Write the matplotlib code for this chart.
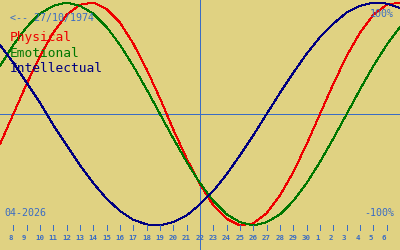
import matplotlib
matplotlib.use('Agg')
import matplotlib.pyplot as plt
import matplotlib.transforms as mtransforms

# days shown: 7 April .. 7 May 2026 (index 0..30), today = 22 April
day_labels = ['7', '8', '9', '10', '11', '12', '13', '14', '15', '16', '17', '18', '19', '20',
              '21', '22', '23', '24', '25', '26', '27', '28', '29', '30',
              '1', '2', '3', '4', '5', '6', '7']
today_idx = 15
physical = [-0.27, 0.00, 0.27, 0.52, 0.73, 0.89, 0.98, 1.00, 0.94, 0.82, 0.63, 0.40, 0.14,
            -0.14, -0.40, -0.63, -0.82, -0.94, -1.00, -0.98, -0.89, -0.73, -0.52, -0.27,
            0.00, 0.27, 0.52, 0.73, 0.89, 0.98, 1.00]
emotional = [0.43, 0.62, 0.78, 0.90, 0.97, 1.00, 0.97, 0.90, 0.78, 0.62, 0.43, 0.22, 0.00,
             -0.22, -0.43, -0.62, -0.78, -0.90, -0.97, -1.00, -0.97, -0.90, -0.78, -0.62,
             -0.43, -0.22, 0.00, 0.22, 0.43, 0.62, 0.78]
intellectual = [0.62, 0.46, 0.28, 0.10, -0.10, -0.28, -0.46, -0.62, -0.76, -0.87, -0.95,
                -0.99, -1.00, -0.97, -0.91, -0.81, -0.69, -0.54, -0.37, -0.19, 0.00, 0.19,
                0.37, 0.54, 0.69, 0.81, 0.91, 0.97, 1.00, 0.99, 0.95]
series_names = ['Physical', 'Emotional', 'Intellectual']
series_colors = ['#ee0000', '#007700', '#000080']
birth = '27/10/1974'
month = '04-2026'

plt.rcParams['lines.antialiased'] = False
plt.rcParams['font.family'] = ['DejaVu Sans Mono']

bg = '#e0d282'
blue = '#3a6cc4'
lw = 0.7

fig = plt.figure(figsize=(4, 2.5), dpi=100, facecolor=bg)
ax = fig.add_axes([0, 0, 1, 1])
ax.set_facecolor(bg)
ax.axis('off')
x = list(range(len(day_labels)))
ax.set_xlim(0, len(day_labels) - 1)
ax.set_ylim(-1.2197, 1.0224)

ax.axhline(0, color=blue, lw=lw)
ax.axvline(today_idx, color=blue, lw=lw)

for vals, c in zip([physical, emotional, intellectual], series_colors):
    ax.plot(x, vals, color=c, lw=lw)

# day ticks along the bottom
tr = mtransforms.blended_transform_factory(ax.transData, ax.transAxes)
off = mtransforms.offset_copy(tr, fig=fig, x=-4.8 * 72 / 100, y=0, units='points')
for i in x[1:-1]:
    ax.plot([i, i], [1 - 225 / 250, 1 - 230 / 250], transform=tr, color=blue, lw=lw)
    ax.text(i, 1 - 237.5 / 250, day_labels[i], transform=off, color=blue,
            fontsize=5.3, fontweight='bold', ha='left', va='center')

def px(xp, yp):
    return xp / 400, 1 - yp / 250

ax.text(*px(10, 20.5), '<-- ' + birth, transform=ax.transAxes, color=blue,
        fontsize=7.2, ha='left', va='baseline')
ax.text(*px(394, 16.5), '100%', transform=ax.transAxes, color=blue,
        fontsize=7.2, ha='right', va='baseline')
ax.text(*px(4.5, 216.5), month, transform=ax.transAxes, color=blue,
        fontsize=7.2, ha='left', va='baseline')
ax.text(*px(394, 216.5), '-100%', transform=ax.transAxes, color=blue,
        fontsize=7.2, ha='right', va='baseline')
for k, (name, c) in enumerate(zip(series_names, series_colors)):
    ax.text(*px(10, 41.5 + 15.5 * k), name, transform=ax.transAxes, color=c,
            fontsize=9.3, ha='left', va='baseline')

fig.savefig('out.png', dpi=100, facecolor=bg)
